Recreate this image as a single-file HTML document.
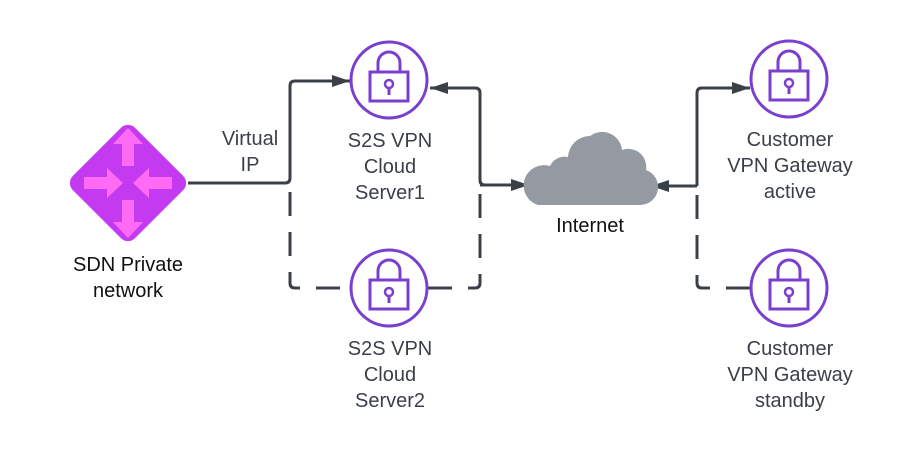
<!DOCTYPE html>
<html><head><style>body{margin:0;background:#fff}svg{display:block}text{font-family:"Liberation Sans",sans-serif;font-size:20px;fill:#3b4048;text-anchor:middle}</style></head>
<body>
<svg width="900" height="449" viewBox="0 0 900 449">
<defs>
<marker id="a" markerWidth="20" markerHeight="14" refX="18" refY="6" orient="auto" markerUnits="userSpaceOnUse"><path d="M0,0 L18,6 L0,12z" fill="#3b4048"/></marker>
<g id="lock"><circle r="38" fill="#fff" stroke="#7b3fd0" stroke-width="3"/><rect x="-19" y="-8" width="38" height="29" fill="none" stroke="#7b3fd0" stroke-width="3"/><path d="M-11,-8 V-17 A11,11 0 0 1 11,-17 V-8" fill="none" stroke="#7b3fd0" stroke-width="3"/><circle cx="0" cy="4" r="4" fill="none" stroke="#7b3fd0" stroke-width="2.5"/><line x1="0" y1="8" x2="0" y2="15" stroke="#7b3fd0" stroke-width="3"/></g>
</defs>
<g fill="none" stroke="#3b4048" stroke-width="3">
<path d="M188,183 H285 Q290,183 290,178 V86 Q290,81 295,81 H350" marker-end="url(#a)"/>
<path d="M290,192 V283 Q290,288 295,288 H351" stroke-dasharray="24,16"/>
<path d="M528,185 H485 Q480,185 480,180 V93 Q480,88 475,88 H430" marker-end="url(#a)"/>
<path d="M480,194 V283 Q480,288 475,288 H427" stroke-dasharray="24,16"/>
<path d="M480,185 H529" marker-end="url(#a)"/>
<path d="M697,186 H651" marker-end="url(#a)"/>
<path d="M697,186 V93 Q697,88 702,88 H750" marker-end="url(#a)"/>
<path d="M697,195 V283 Q697,288 702,288 H751" stroke-dasharray="24,16"/>
</g>
<use href="#lock" x="389" y="80"/>
<use href="#lock" x="389" y="288"/>
<use href="#lock" x="789" y="79"/>
<use href="#lock" x="789" y="288"/>
<g transform="translate(128,183) rotate(45)"><rect x="-44" y="-44" width="88" height="88" rx="10" fill="#c43af0"/></g>
<g fill="#ff6bf5">
<path d="M128,128 L143,144 H134 V166 H122 V144 H113z"/>
<path d="M128,238 L143,222 H134 V200 H122 V222 H113z"/>
<path d="M123,183 L107,168 V177 H84 V189 H107 V198z"/>
<path d="M133,183 L149,168 V177 H172 V189 H149 V198z"/>
</g>
<path d="M538,205 H640 A18,18 0 0 0 646,170 A18,18 0 0 0 622,150 A20,20 0 0 0 590,136 A22,22 0 0 0 568,157 A16,16 0 0 0 550,166 A20,20 0 0 0 538,205z" fill="#9499a2"/>
<text x="250" y="145">Virtual</text><text x="250" y="171">IP</text>
<text x="390" y="147">S2S VPN</text><text x="390" y="173">Cloud</text><text x="390" y="199">Server1</text>
<text x="390" y="355">S2S VPN</text><text x="390" y="381">Cloud</text><text x="390" y="407">Server2</text>
<text x="590" y="232" style="fill:#111">Internet</text>
<text x="128" y="271" style="fill:#111">SDN Private</text><text x="128" y="297" style="fill:#111">network</text>
<text x="790" y="146">Customer</text><text x="790" y="172">VPN Gateway</text><text x="790" y="198">active</text>
<text x="790" y="355">Customer</text><text x="790" y="381">VPN Gateway</text><text x="790" y="407">standby</text>
</svg>
</body></html>
